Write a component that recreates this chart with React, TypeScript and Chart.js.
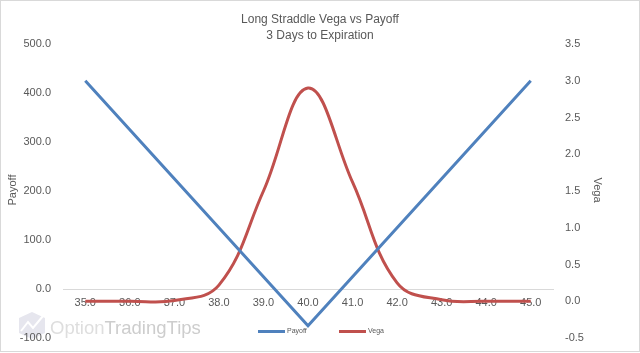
import React, { useEffect, useRef } from 'react';
import { Chart, registerables } from 'chart.js';

Chart.register(...registerables);

const strikes = ['35.0', '36.0', '37.0', '38.0', '39.0', '40.0', '41.0', '42.0', '43.0', '44.0', '45.0'];
const payoff = [425, 325, 225, 125, 25, -75, 25, 125, 225, 325, 425];
const vega = [0, 0, 0.01, 0.22, 1.5, 2.9, 1.62, 0.25, 0.02, 0, 0];
const titleLines = ['Long Straddle Vega vs Payoff', '3 Days to Expiration'];
const seriesNames = ['Payoff', 'Vega'];

const BLUE = '#4F81BD';
const RED = '#C0504D';
const TEXT = '#595959';
const FONT = '"Liberation Sans", Arial, sans-serif';

const deco = {
  id: 'deco',
  beforeDraw(chart: any) {
    const ctx = chart.ctx as CanvasRenderingContext2D;
    ctx.save();
    ctx.fillStyle = '#ffffff';
    ctx.fillRect(0, 0, chart.width, chart.height);
    ctx.strokeStyle = '#d9d9d9';
    ctx.lineWidth = 1;
    ctx.strokeRect(0.5, 0.5, chart.width - 1, 351);
    // watermark logo
    ctx.fillStyle = '#e6e6ee';
    ctx.beginPath();
    ctx.moveTo(19, 318);
    ctx.lineTo(32, 312);
    ctx.lineTo(45, 318);
    ctx.lineTo(45, 333);
    ctx.lineTo(32, 339);
    ctx.lineTo(19, 333);
    ctx.closePath();
    ctx.fill();
    ctx.strokeStyle = '#ffffff';
    ctx.lineWidth = 2;
    ctx.beginPath();
    ctx.moveTo(21, 331);
    ctx.lineTo(28, 322);
    ctx.lineTo(33, 328);
    ctx.lineTo(43, 316);
    ctx.stroke();
    ctx.font = `18.5px ${FONT}`;
    ctx.textBaseline = 'alphabetic';
    ctx.textAlign = 'left';
    ctx.fillStyle = '#dedede';
    ctx.fillText('Option', 50, 334);
    const w = ctx.measureText('Option').width;
    ctx.fillStyle = '#cdcdcd';
    ctx.fillText('TradingTips', 50 + w, 334);
    ctx.restore();
  },
  afterDraw(chart: any) {
    const ctx = chart.ctx as CanvasRenderingContext2D;
    ctx.save();
    ctx.fillStyle = TEXT;
    ctx.textAlign = 'center';
    ctx.textBaseline = 'middle';
    ctx.font = `12px ${FONT}`;
    ctx.fillText(titleLines[0], 320, 20);
    ctx.fillText(titleLines[1], 320, 36);
    // axis titles
    ctx.font = `11px ${FONT}`;
    ctx.save();
    ctx.translate(13, 190);
    ctx.rotate(-Math.PI / 2);
    ctx.fillText(seriesNames[0], 0, 0);
    ctx.restore();
    ctx.save();
    ctx.translate(597, 190);
    ctx.rotate(Math.PI / 2);
    ctx.fillText(seriesNames[1], 0, 0);
    ctx.restore();
    // legend
    ctx.lineWidth = 3;
    ctx.font = `7px ${FONT}`;
    ctx.textAlign = 'left';
    const items = [
      { x: 258, color: BLUE, label: seriesNames[0] },
      { x: 339, color: RED, label: seriesNames[1] },
    ];
    for (const it of items) {
      ctx.strokeStyle = it.color;
      ctx.beginPath();
      ctx.moveTo(it.x, 331.5);
      ctx.lineTo(it.x + 27, 331.5);
      ctx.stroke();
      ctx.fillStyle = TEXT;
      ctx.fillText(it.label, it.x + 29, 331.5);
    }
    ctx.restore();
  },
};

export default function App() {
  const ref = useRef<HTMLCanvasElement>(null);
  useEffect(() => {
    document.body.style.margin = '0';
    const canvas = ref.current!;
    const chart = new Chart(canvas, {
      type: 'line',
      data: {
        labels: strikes,
        datasets: [
          {
            label: seriesNames[0],
            data: payoff,
            borderColor: BLUE,
            backgroundColor: BLUE,
            borderWidth: 3,
            pointRadius: 0,
            tension: 0,
            yAxisID: 'y',
          },
          {
            label: seriesNames[1],
            data: vega,
            borderColor: RED,
            backgroundColor: RED,
            borderWidth: 3,
            pointRadius: 0,
            tension: 0.4,
            yAxisID: 'y1',
          },
        ],
      },
      options: {
        responsive: false,
        animation: false,
        devicePixelRatio: 1,
        layout: { padding: { top: 44, bottom: 15, left: 0, right: 0 } },
        plugins: {
          legend: { display: false },
          title: { display: false },
          tooltip: { enabled: false },
        },
        scales: {
          x: {
            type: 'category',
            axis: 'x',
            position: { y: 0 } as any,
            offset: true,
            grid: { display: false, drawTicks: false },
            border: { display: true, color: '#d9d9d9', width: 1 },
            ticks: {
              color: TEXT,
              font: { family: FONT, size: 11 },
              padding: 7,
              maxRotation: 0,
              autoSkip: false,
            },
            afterFit: (s: any) => {
              s.height = 0;
            },
          },
          y: {
            position: 'left',
            min: -100,
            max: 500,
            grid: { display: false, drawTicks: true, tickLength: 12 },
            border: { display: false },
            ticks: {
              stepSize: 100,
              color: TEXT,
              font: { family: FONT, size: 11 },
              padding: 0,
              callback: (v: any) => Number(v).toFixed(1),
            },
            afterFit: (s: any) => {
              s.width = 63;
            },
          },
          y1: {
            position: 'right',
            min: -0.5,
            max: 3.5,
            grid: { display: false, drawTicks: true, tickLength: 12 },
            border: { display: false },
            ticks: {
              stepSize: 0.5,
              color: TEXT,
              font: { family: FONT, size: 11 },
              padding: 0,
              callback: (v: any) => Number(v).toFixed(1),
            },
            afterFit: (s: any) => {
              s.width = 87;
            },
          },
        },
      },
      plugins: [deco],
    });
    return () => chart.destroy();
  }, []);
  return <canvas ref={ref} width={640} height={353} style={{ display: 'block' }} />;
}
